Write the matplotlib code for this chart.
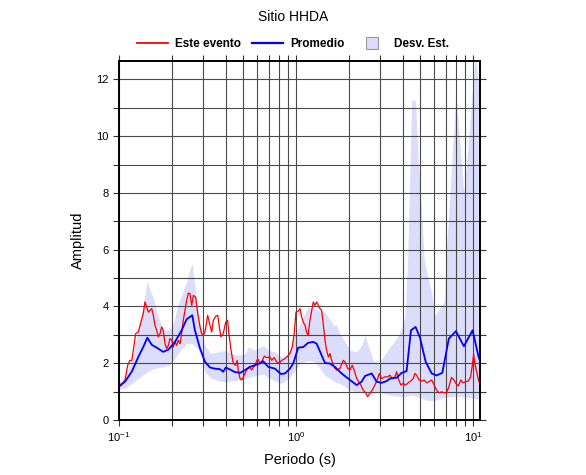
import numpy as np
import matplotlib
matplotlib.use("Agg")
import matplotlib.pyplot as plt
from matplotlib.patches import Patch, Rectangle
from matplotlib.lines import Line2D
from matplotlib.legend_handler import HandlerPatch
from matplotlib.ticker import LogLocator, MultipleLocator, NullFormatter

plt.rcParams['font.family'] = ['Liberation Sans', 'DejaVu Sans']

# ---- data (log10 of period, amplitude) ----
red_logp = [-1.000, -0.985, -0.966, -0.951, -0.938, -0.928, -0.919, -0.906, -0.891, -0.876,
            -0.863, -0.853, -0.844, -0.834, -0.825, -0.815, -0.806, -0.797, -0.787, -0.778,
            -0.768, -0.759, -0.750, -0.740, -0.731, -0.721, -0.712, -0.702, -0.693, -0.684,
            -0.674, -0.665, -0.655, -0.646, -0.637, -0.627, -0.618, -0.608, -0.599, -0.589,
            -0.580, -0.567, -0.555, -0.542, -0.533, -0.524, -0.514, -0.499, -0.486, -0.476,
            -0.467, -0.454, -0.442, -0.433, -0.424, -0.411, -0.397, -0.386, -0.379, -0.367,
            -0.354, -0.341, -0.332, -0.326, -0.316, -0.307, -0.292, -0.279, -0.266, -0.250,
            -0.232, -0.216, -0.203, -0.190, -0.179, -0.166, -0.147, -0.137, -0.123, -0.109,
            -0.096, -0.081, -0.062, -0.047, -0.034, -0.021, -0.010, 0.000, 0.013, 0.023,
            0.032, 0.041, 0.051, 0.060, 0.069, 0.079, 0.089, 0.098, 0.107, 0.117,
            0.126, 0.136, 0.145, 0.154, 0.164, 0.173, 0.183, 0.192, 0.202, 0.211,
            0.220, 0.230, 0.249, 0.267, 0.277, 0.292, 0.305, 0.318, 0.329, 0.343,
            0.362, 0.380, 0.394, 0.405, 0.418, 0.431, 0.446, 0.462, 0.471, 0.484,
            0.503, 0.518, 0.531, 0.544, 0.559, 0.569, 0.578, 0.593, 0.606, 0.620,
            0.634, 0.650, 0.663, 0.672, 0.682, 0.695, 0.710, 0.725, 0.738, 0.751,
            0.767, 0.781, 0.795, 0.808, 0.823, 0.838, 0.851, 0.864, 0.879, 0.893,
            0.904, 0.917, 0.932, 0.945, 0.960, 0.973, 0.987, 0.998, 1.004, 1.011,
            1.021, 1.034]
red_amp = [1.17, 1.23, 1.40, 1.93, 2.10, 2.10, 2.46, 3.04, 3.10, 3.45,
           3.75, 4.16, 3.98, 3.80, 3.86, 3.92, 3.69, 3.34, 3.16, 2.93,
           3.04, 3.28, 3.16, 2.69, 2.52, 2.63, 2.87, 2.81, 2.57, 2.75,
           2.63, 2.81, 2.69, 3.04, 3.51, 3.86, 4.21, 4.47, 4.45, 4.04,
           4.39, 4.33, 3.75, 3.28, 3.04, 2.99, 3.10, 3.69, 3.34, 3.10,
           3.51, 3.65, 3.69, 3.28, 2.93, 3.04, 3.45, 3.51, 3.04, 2.46,
           1.99, 1.93, 2.10, 1.76, 1.46, 1.41, 1.58, 1.76, 1.87, 1.76,
           1.93, 2.16, 1.99, 2.10, 2.25, 2.20, 2.22, 2.10, 2.20, 2.05,
           2.00, 2.10, 2.16, 2.25, 2.34, 2.57, 3.04, 3.80, 3.84, 3.92,
           3.63, 3.45, 3.34, 3.10, 2.99, 3.51, 3.86, 4.16, 4.04, 4.16,
           4.04, 3.92, 3.86, 3.39, 2.81, 2.46, 2.22, 2.34, 2.10, 1.93,
           1.82, 1.76, 1.82, 2.10, 2.05, 1.82, 1.76, 1.93, 1.76, 1.46,
           1.29, 1.05, 0.96, 0.82, 0.94, 1.05, 1.23, 1.46, 1.64, 1.46,
           1.52, 1.52, 1.58, 1.46, 1.52, 1.70, 1.46, 1.23, 1.29, 1.23,
           1.31, 1.38, 1.46, 1.64, 1.58, 1.41, 1.37, 1.41, 1.31, 1.35,
           1.41, 1.23, 1.05, 0.96, 0.99, 0.96, 0.96, 1.17, 1.50, 1.41,
           1.29, 1.20, 1.41, 1.31, 1.35, 1.37, 1.52, 1.99, 2.32, 1.99,
           1.70, 1.35]

blue_logp = [-1.000, -0.966, -0.928, -0.891, -0.863, -0.840, -0.815, -0.787, -0.750, -0.721,
             -0.684, -0.646, -0.618, -0.586, -0.571, -0.542, -0.514, -0.486, -0.458, -0.429,
             -0.411, -0.397, -0.373, -0.345, -0.316, -0.288, -0.260, -0.232, -0.203, -0.185,
             -0.156, -0.119, -0.085, -0.062, -0.034, -0.015, 0.013, 0.041, 0.069, 0.098,
             0.117, 0.145, 0.164, 0.192, 0.220, 0.258, 0.295, 0.343, 0.371, 0.390,
             0.428, 0.456, 0.484, 0.512, 0.531, 0.569, 0.597, 0.625, 0.650, 0.676,
             0.701, 0.733, 0.767, 0.795, 0.827, 0.864, 0.904, 0.949, 0.998, 1.034]
blue_amp = [1.20, 1.35, 1.70, 2.22, 2.57, 2.90, 2.65, 2.55, 2.40, 2.48,
            2.75, 3.16, 3.55, 3.69, 3.16, 2.52, 2.05, 1.85, 1.81, 1.79,
            1.70, 1.85, 1.78, 1.69, 1.66, 1.76, 1.87, 1.93, 2.00, 2.07,
            1.87, 1.81, 1.62, 1.64, 1.81, 2.00, 2.55, 2.57, 2.72, 2.75,
            2.69, 2.28, 2.01, 1.99, 1.87, 1.64, 1.46, 1.23, 1.35, 1.55,
            1.64, 1.35, 1.31, 1.37, 1.46, 1.49, 1.66, 1.72, 3.16, 3.28,
            2.90, 2.05, 1.64, 1.57, 1.66, 2.87, 3.13, 2.60, 3.16, 2.17]

band_logp = [-1.000, -0.966, -0.928, -0.891, -0.863, -0.840, -0.825, -0.806, -0.778, -0.750,
             -0.721, -0.693, -0.665, -0.646, -0.618, -0.599, -0.586, -0.571, -0.542, -0.514,
             -0.486, -0.439, -0.401, -0.363, -0.326, -0.288, -0.269, -0.232, -0.185, -0.156,
             -0.119, -0.081, -0.044, -0.015, 0.023, 0.069, 0.107, 0.136, 0.164, 0.183,
             0.211, 0.230, 0.249, 0.277, 0.305, 0.343, 0.371, 0.390, 0.408, 0.437,
             0.465, 0.493, 0.531, 0.569, 0.597, 0.616, 0.631, 0.654, 0.676, 0.691,
             0.710, 0.725, 0.738, 0.767, 0.785, 0.814, 0.838, 0.847, 0.904, 0.927,
             0.949, 0.973, 1.002, 1.014, 1.040]
band_upper = [1.35, 1.52, 2.10, 3.16, 4.10, 4.90, 4.57, 4.30, 3.63, 3.16,
              3.16, 3.40, 4.10, 4.40, 4.86, 5.33, 5.50, 4.68, 3.40, 2.63,
              2.35, 2.40, 2.46, 2.34, 2.28, 2.34, 2.57, 2.46, 2.63, 2.46,
              2.40, 2.22, 2.34, 2.87, 3.40, 3.98, 3.90, 3.85, 3.80, 3.63,
              3.35, 3.34, 3.04, 2.75, 2.46, 2.40, 2.63, 2.99, 2.63, 2.10,
              1.99, 2.22, 2.57, 2.87, 3.22, 3.63, 5.60, 11.30, 11.24, 9.13,
              7.38, 5.62, 5.27, 4.45, 3.69, 3.92, 4.20, 5.60, 11.53, 9.72,
              7.96, 9.72, 12.00, 12.80, 11.50]
band_lower = [1.10, 1.11, 1.29, 1.46, 1.60, 1.70, 1.75, 1.80, 1.85, 1.87,
              1.92, 2.10, 2.35, 2.52, 2.69, 2.70, 2.69, 2.60, 2.40, 1.70,
              1.50, 1.38, 1.35, 1.38, 1.41, 1.46, 1.50, 1.55, 1.62, 1.50,
              1.38, 1.29, 1.46, 1.65, 2.00, 2.10, 2.05, 1.82, 1.58, 1.50,
              1.38, 1.32, 1.29, 1.17, 1.05, 0.99, 0.96, 0.94, 0.94, 0.94,
              0.99, 0.94, 0.88, 0.84, 0.83, 0.82, 0.84, 0.88, 0.85, 0.82,
              0.78, 0.74, 0.70, 0.68, 0.68, 0.76, 0.80, 0.81, 0.84, 0.83,
              0.82, 0.80, 0.76, 0.75, 0.73]

title = "Sitio HHDA"
legend_labels = ["Este evento", "Promedio", "Desv. Est."]

# ---- figure ----
W, H = 586, 475
fig = plt.figure(figsize=(W / 100, H / 100), dpi=100)
ax = fig.add_axes([119 / W, 1 - 420 / H, (480 - 119) / W, (420 - 61) / H])

red_p = 10 ** np.array(red_logp)
blue_p = 10 ** np.array(blue_logp)
band_p = 10 ** np.array(band_logp)

band_color = '#dcdcfb'
ax.fill_between(band_p, band_lower, band_upper, color=band_color, lw=0, zorder=1)
ax.plot(red_p, red_amp, color='#ff0000', lw=0.9, zorder=4)
ax.plot(blue_p, blue_amp, color='#0000ff', lw=1.3, zorder=5)

ax.set_xscale('log')
ax.set_xlim(0.1, 10 ** 1.04)
ax.set_ylim(0, 12.65)

ax.xaxis.set_major_locator(LogLocator(base=10, numticks=10))
ax.xaxis.set_minor_locator(LogLocator(base=10, subs=np.arange(2, 10), numticks=20))
ax.xaxis.set_minor_formatter(NullFormatter())
ax.yaxis.set_major_locator(MultipleLocator(2))
ax.yaxis.set_minor_locator(MultipleLocator(1))

ax.grid(True, which='both', axis='both', color='#4a4a4a', lw=0.8, zorder=2)
for gl in ax.get_xgridlines() + ax.get_ygridlines():
    gl.set_zorder(2)

ax.tick_params(which='both', direction='out', top=True, right=True,
               labeltop=False, labelright=False, length=4, width=0.8,
               labelsize=8, color='#333333')
for s in ax.spines.values():
    s.set_linewidth(1.4)
    s.set_zorder(6)

ax.set_xlabel("Periodo (s)", fontsize=10.5, labelpad=6)
ax.set_ylabel("Amplitud", fontsize=10.5, labelpad=8)
fig.text(0.5, 1 - 17 / H, title, ha='center', va='center', fontsize=10)


def square_patch(legend, orig_handle, xdescent, ydescent, width, height, fontsize):
    s = height * 1.5
    return Rectangle((xdescent + (width - s) / 2, ydescent + (height - s) / 2), s, s)


handles = [Line2D([], [], color='#ff0000', lw=1.3),
           Line2D([], [], color='#0000ff', lw=1.6),
           Patch(facecolor=band_color, edgecolor='#999999', lw=0.8)]
fig.legend(handles, legend_labels, loc='center', bbox_to_anchor=(0.5, 1 - 44 / H),
           ncol=3, frameon=False, prop={'weight': 'bold', 'size': 8.5},
           handlelength=2.6, columnspacing=1.0, handletextpad=0.6,
           handler_map={Patch: HandlerPatch(patch_func=square_patch)})

fig.savefig('out.png', dpi=100)
